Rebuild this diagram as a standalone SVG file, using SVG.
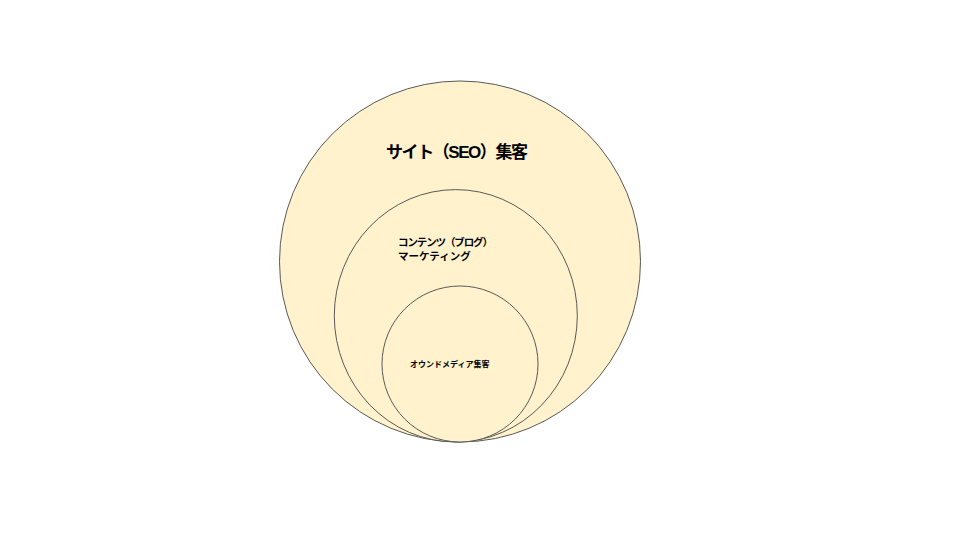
<svg xmlns="http://www.w3.org/2000/svg" width="960" height="540" viewBox="0 0 960 540">
<style>
.c{fill:#FFF2CC;stroke:#595959;stroke-width:1}
.t{font-family:"Liberation Sans","Noto Sans CJK JP",sans-serif;font-weight:bold;fill:#000}
</style>
<rect width="960" height="540" fill="#fff"/>
<g id="outer">
<circle class="c" cx="460" cy="261.5" r="180.5"/>
<text class="t" x="386" y="158" font-size="17" textLength="142" lengthAdjust="spacing">サイト（SEO）集客</text>
</g>
<g id="middle">
<ellipse class="c" cx="455.8" cy="315.8" rx="121.5" ry="126.2"/>
<text class="t" x="398" y="246" font-size="10.5" textLength="95" lengthAdjust="spacing">コンテンツ（ブログ）</text>
<text class="t" x="398" y="260" font-size="10.5">マーケティング</text>
</g>
<g id="inner">
<circle class="c" cx="460" cy="364" r="78"/>
<text class="t" x="410" y="367" font-size="8">オウンドメディア集客</text>
</g>
<g id="connectors"></g>
</svg>
